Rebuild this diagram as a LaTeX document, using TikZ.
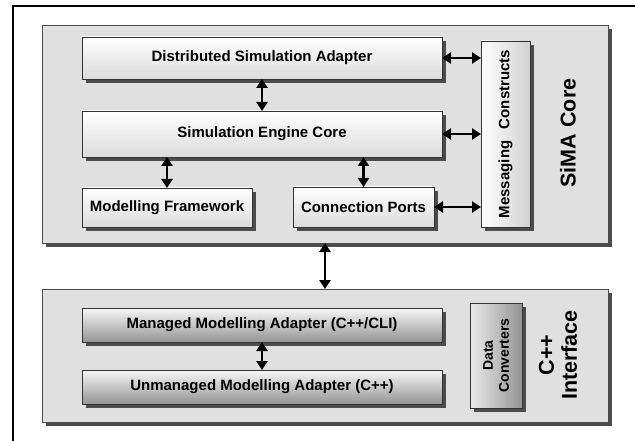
\documentclass[tikz,border=0pt]{standalone}
\usepackage{fontspec}
\setmainfont{Liberation Sans}
\usetikzlibrary{shadows,arrows.meta}
\begin{document}
\begin{tikzpicture}[x=1pt,y=-1pt,
  shade/.style={drop shadow={shadow xshift=4pt,shadow yshift=-4pt,fill=black!70,opacity=1}},
  panel/.style={draw=black!70,line width=0.8pt,fill=black!12,shade,inner sep=0pt,outer sep=0pt,anchor=north west},
  lightbox/.style={draw=black!80,line width=0.8pt,shade,top color=white,bottom color=black!14,
    inner sep=0pt,outer sep=0pt,anchor=north west,font=\fontsize{15}{17}\selectfont\bfseries},
  sidebox/.style={draw=black!80,line width=0.8pt,shade,left color=white,right color=black!18,
    inner sep=0pt,outer sep=0pt,anchor=north west},
  darkbox/.style={draw=black!80,line width=0.8pt,shade,top color=black!3,bottom color=black!42,
    inner sep=0pt,outer sep=0pt,anchor=north west,font=\fontsize{15}{17}\selectfont\bfseries},
  darkside/.style={draw=black!80,line width=0.8pt,shade,left color=black!8,right color=black!42,
    inner sep=0pt,outer sep=0pt,anchor=north west},
  link/.style={line width=2.5pt,{Triangle[length=9pt,width=11pt]}-{Triangle[length=9pt,width=11pt]}},
  biglabel/.style={rotate=90,align=center,font=\fontsize{21.5}{23}\selectfont\bfseries},
  sidelabel/.style={rotate=90,align=center,font=\fontsize{15}{17}\selectfont\bfseries}
]
\useasboundingbox (0,0) rectangle (635,441);
\fill[white] (0,0) rectangle (635,441);

% page frame (top and left rules)
\draw[line width=2pt] (13,441) -- (13,6) -- (635,6);

% SiMA core panel
\node[panel,minimum width=566pt,minimum height=218pt] (sima) at (42,25) {};
\node[lightbox,minimum width=360pt,minimum height=42pt] (dsa) at (82,37) {Distributed Simulation Adapter};
\node[lightbox,minimum width=360pt,minimum height=46pt] (sec) at (82,111) {Simulation Engine Core};
\node[lightbox,minimum width=170pt,minimum height=39pt] (mf) at (82,188) {Modelling Framework};
\node[lightbox,minimum width=141pt,minimum height=40pt] (cp) at (293,187) {Connection Ports};
\node[sidebox,minimum width=49pt,minimum height=186pt] (mc) at (481,41) {};
\node[sidelabel] (mctext) at (mc.center) {Messaging\hspace{0.5em} Constructs};
\node[biglabel] (simatext) at (568,133) {SiMA Core};

\draw[link] (dsa) -- (sec);
\draw[link] (mf.north) -- (mf.north |- sec.south);
\draw[link] (cp.north) -- (cp.north |- sec.south);
\draw[link] (dsa.east) -- (dsa.east -| mc.west);
\draw[link] (sec.east) -- (sec.east -| mc.west);
\draw[link] (cp.east) -- (cp.east -| mc.west);

% C++ interface panel
\node[panel,minimum width=566pt,minimum height=133pt] (cpp) at (42,289) {};
\node[darkbox,minimum width=360pt,minimum height=34pt] (mma) at (82,308) {Managed Modelling Adapter (C++/CLI)};
\node[darkbox,minimum width=360pt,minimum height=34pt] (uma) at (82,370) {Unmanaged Modelling Adapter (C++)};
\node[darkside,minimum width=52pt,minimum height=105pt] (dc) at (470,303) {};
\node[sidelabel,font=\fontsize{14}{16}\selectfont\bfseries] (dctext) at (dc.center) {Data\\Converters};
\node[biglabel] (cpptext) at (558,355) {C++\\Interface};

\draw[link] (mma) -- (uma);
\draw[link] (sima) -- (cpp);
\end{tikzpicture}
\end{document}
